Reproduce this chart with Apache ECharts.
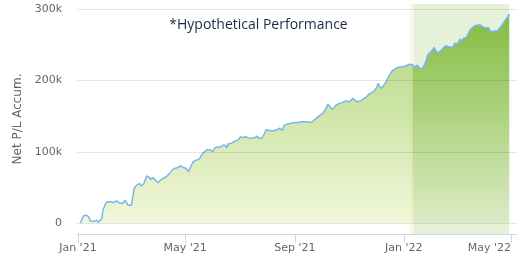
<!DOCTYPE html>
<html>
<head>
<meta charset="utf-8">
<script src="https://cdn.jsdelivr.net/npm/echarts@6/dist/echarts.min.js"></script>
<style>html,body{margin:0;padding:0;background:#fff}#c{width:517px;height:258px}</style>
</head>
<body>
<div id="c"></div>
<script>
const dates = [
'2021-01-04','2021-01-07','2021-01-10','2021-01-13','2021-01-15','2021-01-17','2021-01-19','2021-01-22','2021-01-24','2021-01-26','2021-01-28','2021-01-29',
'2021-02-01','2021-02-03','2021-02-07','2021-02-10','2021-02-13','2021-02-16','2021-02-18','2021-02-20','2021-02-23','2021-02-26','2021-02-28',
'2021-03-02','2021-03-05','2021-03-07','2021-03-09','2021-03-11','2021-03-13','2021-03-14','2021-03-16','2021-03-19','2021-03-22','2021-03-24','2021-03-26','2021-03-29',
'2021-04-01','2021-04-03','2021-04-06','2021-04-10','2021-04-14','2021-04-17','2021-04-20','2021-04-23','2021-04-26','2021-04-29',
'2021-05-02','2021-05-05','2021-05-07','2021-05-10','2021-05-13','2021-05-16','2021-05-18','2021-05-21','2021-05-23','2021-05-26','2021-05-29',
'2021-06-01','2021-06-03','2021-06-06','2021-06-09','2021-06-12','2021-06-15','2021-06-17','2021-06-18','2021-06-22','2021-06-26','2021-06-30',
'2021-07-02','2021-07-05','2021-07-08','2021-07-11','2021-07-15','2021-07-18','2021-07-21','2021-07-23','2021-07-26','2021-07-29','2021-07-31',
'2021-08-04','2021-08-08','2021-08-12','2021-08-15','2021-08-18','2021-08-20','2021-08-24','2021-08-28','2021-08-31',
'2021-09-04','2021-09-08','2021-09-12','2021-09-17','2021-09-20','2021-09-23','2021-09-26','2021-09-29',
'2021-10-02','2021-10-05','2021-10-08','2021-10-10','2021-10-13','2021-10-17','2021-10-21','2021-10-24','2021-10-28',
'2021-11-01','2021-11-05','2021-11-07','2021-11-10','2021-11-12','2021-11-15','2021-11-17','2021-11-20','2021-11-23','2021-11-26','2021-11-29',
'2021-12-02','2021-12-03','2021-12-05','2021-12-07','2021-12-09','2021-12-11','2021-12-13','2021-12-16','2021-12-19','2021-12-23','2021-12-27','2021-12-31',
'2022-01-02','2022-01-05','2022-01-08','2022-01-11','2022-01-13','2022-01-16','2022-01-18','2022-01-21','2022-01-23','2022-01-25','2022-01-27','2022-01-28','2022-01-31',
'2022-02-02','2022-02-04','2022-02-06','2022-02-09','2022-02-11','2022-02-14','2022-02-17','2022-02-19','2022-02-21','2022-02-22','2022-02-25','2022-02-27',
'2022-03-01','2022-03-03','2022-03-05','2022-03-07','2022-03-09','2022-03-12','2022-03-14','2022-03-17','2022-03-19','2022-03-22','2022-03-24','2022-03-27','2022-03-29',
'2022-04-01','2022-04-03','2022-04-06','2022-04-08','2022-04-11','2022-04-14','2022-04-17','2022-04-19','2022-04-22','2022-04-25','2022-04-28','2022-04-29'
];
const netPL = [
0,10000,11000,9000,3000,5000,2000,4000,1000,2000,6500,18000,
27000,30000,30000,28500,31000,28500,30000,27500,32000,25000,24000,
25000,48500,52000,51000,55500,52000,53000,55500,66000,64000,61000,64000,60000,
56500,59500,62500,65000,70000,75000,77000,78000,80000,78000,
77000,72000,78000,86000,88000,89000,92000,98000,100000,103000,103000,
100000,105000,107000,106000,109000,109000,105000,111000,112000,115000,117000,
121000,120000,121000,119500,119000,120000,122000,119000,119000,126000,131000,
130000,129500,131000,133000,130000,137000,139000,140000,141000,
141000,142000,142000,142000,141000,145000,148000,151000,
154000,158500,167000,164000,159500,165500,168000,169000,171500,
170000,175000,172500,170000,168000,172500,175000,177000,181000,183000,185500,
191000,196000,192000,189000,190000,196000,200500,207500,213500,217000,219000,219000,
218000,221500,223000,222000,218000,221500,218000,216000,219000,224000,231000,236500,239000,
241000,246000,241000,238000,241000,245000,248500,250500,247000,245000,246000,252000,
254000,252000,258000,255000,259000,260000,261000,272000,274000,277000,277000,278000,279000,
274000,273000,274000,268000,269000,269000,270500,273000,279000,285000,290000,293000
];
const yTicks = [0, 100000, 200000, 300000];
const yTickLabels = ['0', '100k', '200k', '300k'];
const xTickDates = ['2021-01-01', '2021-05-01', '2021-09-01', '2022-01-01', '2022-05-01'];
const xTickLabels = ["Jan '21", "May '21", "Sep '21", "Jan '22", "May '22"];
const bandStripe = ['2022-01-07T12:00:00', '2022-01-12T00:00:00'];
const bandMain = ['2022-01-12T00:00:00', '2022-04-29T00:00:00'];

const ts = d => new Date(d.length === 10 ? d + 'T00:00:00' : d).getTime();
const xTickTs = xTickDates.map(ts);
const allData = dates.map((d, i) => [ts(d), netPL[i]]);
const bandStart = ts(bandMain[0]);
const bandData = allData.filter((p, i) => p[0] >= bandStart || (i + 1 < allData.length && allData[i + 1][0] >= bandStart));
const chart = echarts.init(document.getElementById('c'), null, {renderer: 'canvas'});
const font = 'DejaVu Sans';
const lineStyle = {color: '#7cb5ec', width: 1.5};
chart.setOption({
  animation: false,
  title: {
    text: '*Hypothetical Performance', left: 'center', top: 13,
    textStyle: {fontFamily: 'Open Sans', fontSize: 14, fontWeight: 'normal', color: '#1a2a46'}
  },
  grid: {left: 77, right: 0, top: 4, bottom: 24, outerBoundsMode: 'none'},
  xAxis: {
    type: 'value',
    min: ts('2020-12-31'), max: ts('2022-05-07T19:00:00'),
    axisLine: {show: true, onZero: false, lineStyle: {color: '#ccd6eb', width: 1}},
    axisTick: {show: true, length: 9, lineStyle: {color: '#ccd6eb'}, customValues: xTickTs},
    axisLabel: {
      customValues: xTickTs, fontFamily: font, fontSize: 11, color: '#666', margin: 9,
      alignMaxLabel: 'right',
      formatter: v => { const i = xTickTs.indexOf(v); return i >= 0 ? xTickLabels[i] : ''; }
    },
    splitLine: {show: false}
  },
  yAxis: {
    type: 'value', min: -15400, max: 307400,
    name: 'Net P/L Accum.', nameLocation: 'middle', nameGap: 53,
    nameTextStyle: {fontFamily: font, fontSize: 12, color: '#666'},
    axisLine: {show: false}, axisTick: {show: false},
    axisLabel: {
      customValues: yTicks, fontFamily: font, fontSize: 11, color: '#666', margin: 15,
      formatter: v => { const i = yTicks.indexOf(v); return i >= 0 ? yTickLabels[i] : ''; }
    },
    splitLine: {show: false}
  },
  series: [{
    type: 'line', z: 2,
    data: allData,
    symbol: 'none',
    lineStyle: lineStyle,
    areaStyle: {
      color: new echarts.graphic.LinearGradient(0, 0, 0, 1, [
        {offset: 0, color: '#8cc242'}, {offset: 1, color: '#ecf3ca'}
      ])
    },
    markArea: {
      silent: true,
      data: [
        [{xAxis: ts(bandStripe[0]), itemStyle: {color: 'rgba(250,220,150,0.22)'}}, {xAxis: ts(bandStripe[1])}],
        [{xAxis: bandStart, itemStyle: {color: 'rgba(124,191,63,0.2)'}}, {xAxis: ts(bandMain[1])}]
      ]
    }
  }, {
    type: 'line', z: 3,
    data: bandData,
    symbol: 'none',
    lineStyle: lineStyle,
    areaStyle: {
      color: new echarts.graphic.LinearGradient(0, 0, 0, 1, [
        {offset: 0, color: '#74b42c'}, {offset: 1, color: '#d6e8c2'}
      ])
    },
    markLine: {
      silent: true, symbol: 'none', label: {show: false},
      lineStyle: {color: 'rgba(0,0,0,0.1)', type: 'solid', width: 1},
      data: yTicks.map(v => ({yAxis: v}))
    }
  }]
});
</script>
</body>
</html>
